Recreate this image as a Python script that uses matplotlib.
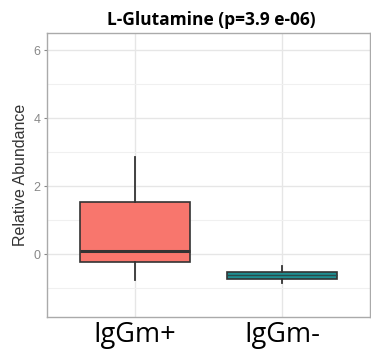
import matplotlib
matplotlib.use("Agg")
import matplotlib.pyplot as plt
import numpy as np

categories = ["IgGm+", "IgGm-"]
# box statistics: whislo, q1, med, q3, whishi
whislo = [-0.76, -0.85]
q1 = [-0.24, -0.72]
med = [0.09, -0.62]
q3 = [1.53, -0.52]
whishi = [2.86, -0.35]
colors = ["#F8766D", "#1E8E91"]
yticks = [0, 2, 4, 6]
title = "L-Glutamine (p=3.9 e-06)"
ylabel = "Relative Abundance"

fig = plt.figure(figsize=(3.71, 3.51), dpi=100)
ax = fig.add_axes([47/371, 1-317/351, 323/371, 284/351])

stats = []
for i, c in enumerate(categories):
    stats.append(dict(label=c, whislo=whislo[i], q1=q1[i], med=med[i],
                      q3=q3[i], whishi=whishi[i], fliers=[]))
pos = np.arange(1, len(categories)+1)
bp = ax.bxp(stats, positions=pos, widths=0.75, patch_artist=True,
            showcaps=False, showfliers=False,
            boxprops=dict(linewidth=1.2, edgecolor="#333333"),
            medianprops=dict(color="#333333", linewidth=2.2),
            whiskerprops=dict(color="#333333", linewidth=1.3),
            zorder=3)
for patch, col in zip(bp["boxes"], colors):
    patch.set_facecolor(col)
bp["medians"][1].set_linewidth(1.0)
bp["medians"][1].set_color("#2a4a4a")

ax.set_xlim(0.4, 2.6)
ax.set_ylim(-1.85, 6.5)
ax.set_yticks(yticks)
ax.set_yticks([-1, 1, 3, 5], minor=True)
ax.set_xticks(pos)
ax.set_xticklabels(categories, fontsize=19.5, family="Open Sans", color="black")
ax.tick_params(axis="x", length=0, pad=3)
ax.tick_params(axis="y", which="major", length=2.5, width=0.8, color="#888888",
               labelcolor="#888888", labelsize=9, pad=2)
for lbl in ax.get_yticklabels():
    lbl.set_family("Liberation Sans")
ax.tick_params(axis="y", which="minor", length=0)
ax.grid(True, which="major", color="#e6e6e6", linewidth=1.0, zorder=0)
ax.grid(True, which="minor", axis="y", color="#f0f0f0", linewidth=0.8, zorder=0)
ax.set_axisbelow(True)
for s in ax.spines.values():
    s.set_color("#aaaaaa")
    s.set_linewidth(1.0)

ax.set_ylabel(ylabel, fontsize=11.5, color="#333333", labelpad=4, family="Liberation Sans")
fig.text(211/371, 1-20/351, title, ha="center", va="center", fontsize=12.5,
         fontweight="bold", family="Open Sans")

fig.savefig("out.png", dpi=100)
